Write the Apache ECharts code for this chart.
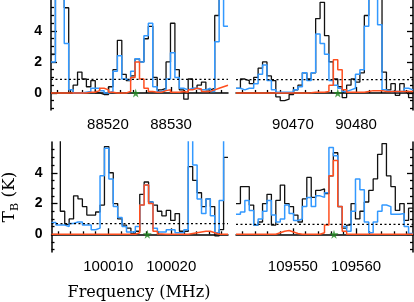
<!DOCTYPE html>
<html><head><meta charset="utf-8">
<script src="https://cdn.jsdelivr.net/npm/echarts@6/dist/echarts.min.js"></script>
<style>html,body{margin:0;padding:0;background:#fff}#c{width:414px;height:302px}</style>
</head><body><div id="c"></div>
<script>
// ---- data ----
const chanWidth = 0.7; // MHz per channel
const rangeTL = [88511, 88539];
const rangeTR = [90461, 90489];
const rangeBL = [100001, 100029];
const rangeBR = [109541, 109569];
const majorTL = [88520, 88530];
const majorTR = [90470, 90480];
const majorBL = [100010, 100020];
const majorBR = [109550, 109560];
const yTickLabels = [0, 2, 4];

const obsTL = [2.5, 8, 8, 5.5, 0.0, 0.5, 1.35, 0.9, 0.4, 0.8, 0.0, -0.1, -0.1, 0.4, 1.5, 3.4, 1.2, 0.8, 1.1, 2.2, 2.0, 3.5, 4.3, 1.0, 0.2, 0.3, 2.0, 4.5, 1.5, 0.2, -0.4, 0.9, 0.3, 0.5, 0.7, 0.2, 0.3, 5.0, 8, 8];
const totTL = [2.0, 8, 8, 3.2, 0.2, 0.0, 0.0, 0.05, 0.1, 0.3, 0.3, 0.15, 0.0, 0.1, 1.4, 2.4, 0.9, 0.8, 1.4, 2.2, 2.0, 3.7, 4.5, 0.4, 0.1, 0.2, 0.9, 2.6, 1.0, 0.3, 0.2, 0.3, 0.3, 0.2, 0.2, 0.3, 0.1, 3.3, 8, 4.3];
const molTL = [0, 0, 0, 0, 0, 0, 0, 0, 0.05, 0.05, 0.15, 0.3, 0.2, 0.05, 0, 0, 0, 0.1, 1.0, 2.0, 0.9, 0.3, 0.1, 0.05, 0.05, 0.15, 0.2, 0.05, 0.05, 0.1, 0.05, 0.2, 0.3, 0.25, 0.1, 0.1, 0.2, 0.3, 0.4, 0.5];

const obsTR = [0.3, 0.9, 0.8, 0.6, 1.0, 1.6, 2.0, 1.1, 0.8, -0.25, -0.5, -0.4, -0.1, 0.2, 0.5, 1.3, 0.9, 1.3, 4.8, 5.85, 3.7, 2.0, 0.9, 0.4, -0.3, 0.5, 0.9, 0.7, 1.3, 5.0, 8, 8, 8, 1.35, 0.2, 0.6, -0.15, 0.6, 0.1, -0.3];
const totTR = [0.3, 0.2, 0.3, 0.3, 0.6, 1.2, 1.8, 0.8, 0.2, 0.05, 0.05, 0.05, 0.05, 0.2, 0.4, 1.3, 0.8, 1.3, 3.8, 3.2, 2.5, 0.8, 0.5, 0.3, 0.1, 0.2, 0.3, 1.2, 1.5, 4.3, 6.5, 8, 4.4, 0.2, 0.1, 0.1, 0.1, 0.1, 0.3, 0.2];
const molTR = [0, 0, 0, 0, 0, 0, 0, 0, 0, 0, 0, 0, 0, 0, 0, 0, 0.02, 0.05, 0.05, 0.05, 0.1, 0.5, 2.15, 1.5, 0.2, 0.05, 0.05, 0.05, 0.05, 0.1, 0.15, 0.15, 0.15, 0.1, 0.1, 0.1, 0.1, 0.1, 0.1, 0.1];

const obsBL = [8, 8, 1.5, 0.65, 1.0, 2.5, 2.3, 1.8, 1.25, 1.25, 1.45, 1.9, 5.7, 4.0, 2.0, 1.0, 0.6, 0.4, 0.05, 0.2, 2.6, 3.4, 2.1, 1.9, 1.5, 1.2, 1.55, 0.9, 1.35, 0.2, 0.2, 4.4, 3.5, 2.7, 1.8, 2.3, 1.8, -0.1, 0.3, 5.0];
const totBL = [0.77, 0.6, 0.6, 0.5, 0.7, 0.8, 0.8, 0.6, 0.6, 0.3, 0.4, 3.8, 5.6, 3.6, 1.8, 1.1, 0.5, 0.15, 0.15, 0.5, 1.9, 3.2, 2.1, 0.4, 0.15, 0.15, 0.3, 0.3, 0.1, 0.1, 0.3, 8, 4.5, 2.3, 1.35, 2.3, 1.2, 0.1, 2.2, 8];
const molBL = [0, 0, 0, 0, 0, 0, 0, 0, 0, 0, 0, 0, 0, 0, 0, 0, 0, 0, 0, 0.1, 1.9, 3.2, 2.0, 0.2, 0.02, 0, 0, 0, 0, 0, 0, 0.05, 0.1, 0.15, 0.2, 0.2, 0.1, 0, 0, 0];

const obsBR = [2.0, 3.1, 3.1, 1.9, 0.6, 0.8, 2.0, 2.6, 0.6, 2.2, 3.2, 2.0, 1.8, 1.25, 0.8, 2.3, 3.7, 2.4, 2.85, 2.95, 2.65, 3.8, 5.3, 1.8, 0.4, 0.6, 2.0, 1.0, 1.5, 2.1, 2.85, 3.6, 5.2, 5.9, 3.8, 3.1, 1.55, 2.0, 0.9, 1.7];
const totBR = [1.3, 1.45, 2.2, 1.55, 0.6, 1.0, 1.5, 2.2, 1.25, 0.8, 1.0, 1.9, 1.35, 0.9, 1.0, 1.8, 2.4, 1.8, 2.5, 2.4, 2.7, 5.65, 5.1, 1.8, 0.5, 0.2, 1.5, 3.6, 2.9, 0.8, 0.1, 0.8, 1.5, 1.9, 1.8, 1.3, 1.3, 1.35, 0.5, 0.05];
const molBR = [0, 0, 0, 0, 0, 0, 0, 0, 0, 0.1, 0.2, 0.25, 0.15, 0.05, 0, 0, 0, 0, 0, 0.1, 0.6, 3.8, 4.8, 1.8, 0.2, 0, 0, 0, 0, 0, 0, 0, 0, 0, 0, 0, 0, 0, 0, 0];

const noiseLevels = [0.88, 0.86, 0.69, 0.65]; // TL, TR, BL, BR (3 sigma)
const starFreqs = [88524.4, 90477.1, 100016.2, 109556.5];

// ---- styling / layout ----
const C_OBS = '#111111', C_TOT = '#3399ff', C_MOL = '#ff4f1f', C_STAR = '#1f8a1f';
const STAR = 'path://M50,0 L61,35 L98,35 L68,57 L79,91 L50,70 L21,91 L32,57 L2,35 L39,35 Z';

const panels = [
  {range: rangeTL, major: majorTL, obs: obsTL, tot: totTL, mol: molTL, side: 'left',  grid: {left: 51, top: 0, width: 177, height: 110}, y: [-1.1, 6.0]},
  {range: rangeTR, major: majorTR, obs: obsTR, tot: totTR, mol: molTR, side: 'right', grid: {left: 236, top: 0, width: 177, height: 110}, y: [-1.1, 6.0]},
  {range: rangeBL, major: majorBL, obs: obsBL, tot: totBL, mol: molBL, side: 'left',  grid: {left: 51, top: 142, width: 177, height: 110}, y: [-1.15, 6.0]},
  {range: rangeBR, major: majorBR, obs: obsBR, tot: totBR, mol: molBR, side: 'right', grid: {left: 236, top: 142, width: 177, height: 110}, y: [-1.15, 6.0]}
];

function steps(start, vals) {
  const out = vals.map((v, i) => [start + i * chanWidth, v]);
  out.push([start + vals.length * chanWidth, vals[vals.length - 1]]);
  return out;
}
function seq(a, b, d) { const r = []; for (let v = a; v <= b + 1e-9; v += d) r.push(+v.toFixed(3)); return r; }

const grid = [], xAxis = [], yAxis = [], series = [];
const axisLine = {show: true, lineStyle: {color: '#000', width: 1.5}};
panels.forEach((p, k) => {
  grid.push(p.grid);
  const minorX = seq(p.range[0] + 1, p.range[1] - 1, 2).filter(v => p.major.indexOf(v) < 0);
  // main x axis
  xAxis.push({type: 'value', gridIndex: k, min: p.range[0], max: p.range[1], position: 'bottom',
    axisLine: axisLine, splitLine: {show: false},
    axisTick: {show: true, inside: true, length: 6, customValues: p.major, lineStyle: {color: '#000', width: 1.3}},
    axisLabel: {show: true, customValues: p.major, margin: 7, color: '#000', fontSize: 15, fontFamily: 'Liberation Sans', formatter: v => String(v)}});
  // minor x ticks
  xAxis.push({type: 'value', gridIndex: k, min: p.range[0], max: p.range[1], position: 'bottom',
    axisLine: {show: false}, splitLine: {show: false}, axisLabel: {show: false},
    axisTick: {show: true, inside: true, length: 3, customValues: minorX, lineStyle: {color: '#000', width: 1.3}}});
  const minorY = seq(-1, 5.5, 0.5).filter(v => yTickLabels.indexOf(v) < 0);
  const isLeft = p.side === 'left';
  const mainY = {type: 'value', gridIndex: k, min: p.y[0], max: p.y[1], position: p.side,
    axisLine: axisLine, splitLine: {show: false},
    axisTick: {show: true, inside: true, length: 6, customValues: yTickLabels, lineStyle: {color: '#000', width: 1.3}},
    axisLabel: {show: isLeft, customValues: yTickLabels, margin: 9, color: '#000', fontSize: 14, fontWeight: 'bold', fontFamily: 'Liberation Sans', formatter: v => String(v)}};
  if (k === 2) {
    mainY.name = '{t|T}{s|B}{t| (K)}';
    mainY.nameLocation = 'middle';
    mainY.nameGap = 31;
    mainY.nameRotate = 90;
    mainY.nameTextStyle = {color: '#000', rich: {
      t: {fontSize: 17, fontFamily: 'DejaVu Serif', color: '#000', lineHeight: 22},
      s: {fontSize: 11, fontFamily: 'DejaVu Serif', color: '#000', lineHeight: 22, verticalAlign: 'bottom', padding: [8, 0, 0, 0]}
    }};
  }
  yAxis.push(mainY);
  yAxis.push({type: 'value', gridIndex: k, min: p.y[0], max: p.y[1], position: p.side,
    axisLine: {show: false}, splitLine: {show: false}, axisLabel: {show: false},
    axisTick: {show: true, inside: true, length: 3, customValues: minorY, lineStyle: {color: '#000', width: 1.3}}});

  const xi = 2 * k, yi = 2 * k;
  const base = {type: 'line', xAxisIndex: xi, yAxisIndex: yi, showSymbol: false, symbol: 'none', step: 'end', animation: false, clip: true};
  series.push(Object.assign({}, base, {data: steps(p.range[0], p.obs), lineStyle: {color: C_OBS, width: 1.3}, z: 2}));
  series.push(Object.assign({}, base, {data: steps(p.range[0], p.tot), lineStyle: {color: C_TOT, width: 1.5}, z: 3}));
  series.push(Object.assign({}, base, {data: steps(p.range[0], p.mol), lineStyle: {color: C_MOL, width: 1.5}, z: 4}));
  series.push({type: 'line', xAxisIndex: xi, yAxisIndex: yi, symbol: 'none', animation: false,
    data: [[p.range[0], noiseLevels[k]], [p.range[1], noiseLevels[k]]],
    lineStyle: {color: '#000', width: 1.3, type: [2, 2.5]}, z: 5});
  series.push({type: 'scatter', xAxisIndex: xi, yAxisIndex: yi, symbol: STAR, symbolSize: 9, animation: false,
    data: [[starFreqs[k], 0]], itemStyle: {color: C_STAR}, z: 6});
});

const chart = echarts.init(document.getElementById('c'), null, {renderer: 'canvas'});
chart.setOption({
  animation: false,
  backgroundColor: '#fff',
  grid: grid, xAxis: xAxis, yAxis: yAxis, series: series,
  graphic: [{type: 'text', x: 139, y: 293, style: {text: 'Frequency (MHz)', fontSize: 16, fontFamily: 'DejaVu Serif', fill: '#000', align: 'center', verticalAlign: 'middle'}}]
});
</script></body></html>
